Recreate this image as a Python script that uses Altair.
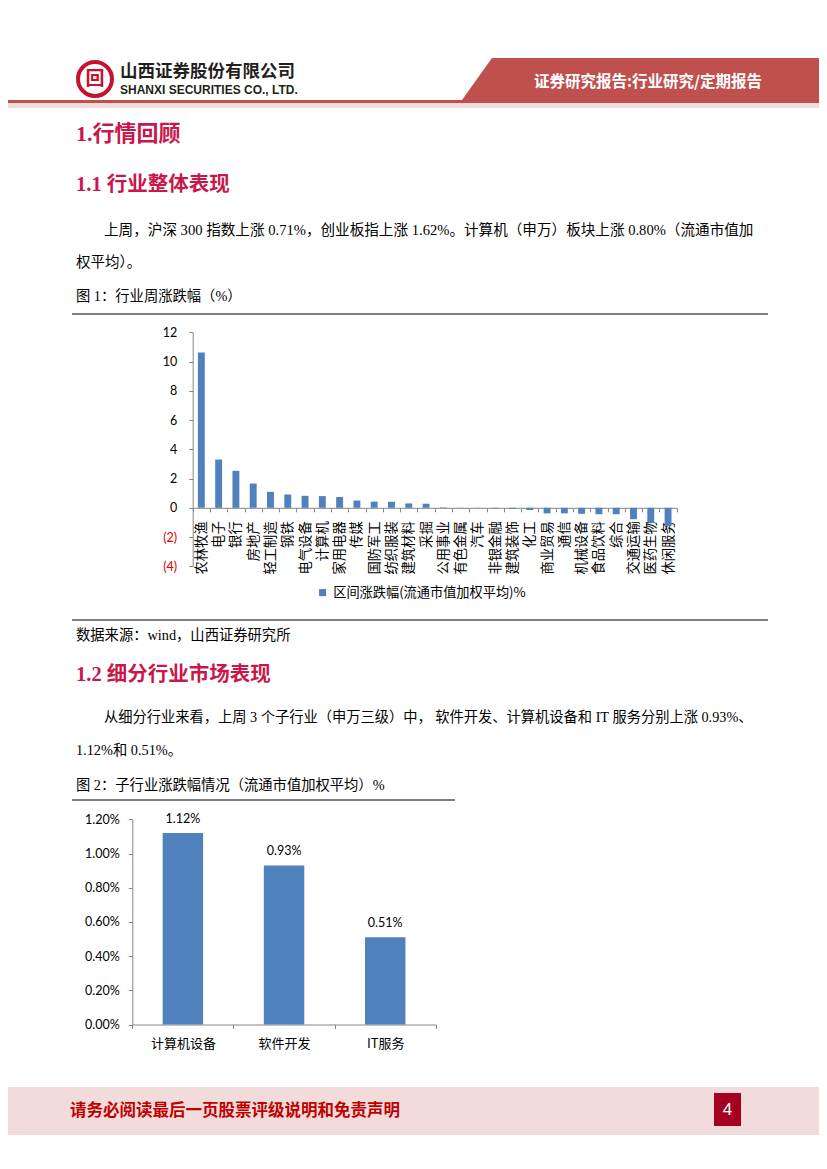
import altair as alt
import pandas as pd

# ---------------- data ----------------
industries = ["农林牧渔", "电子", "银行", "房地产", "轻工制造", "钢铁", "电气设备", "计算机",
              "家用电器", "传媒", "国防军工", "纺织服装", "建筑材料", "采掘", "公用事业", "有色金属",
              "汽车", "非银金融", "建筑装饰", "化工", "商业贸易", "通信", "机械设备", "食品饮料",
              "综合", "交通运输", "医药生物", "休闲服务"]
changes = [10.62, 3.30, 2.53, 1.66, 1.09, 0.91, 0.82, 0.80, 0.74, 0.50, 0.42, 0.41, 0.30, 0.28,
           0.03, 0.01, -0.01, -0.03, -0.06, -0.15, -0.38, -0.38, -0.41, -0.44, -0.44, -0.78,
           -1.02, -1.25]
series_name = "区间涨跌幅(流通市值加权平均)%"
y1_ticks = [-4, -2, 0, 2, 4, 6, 8, 10, 12]

subs = ["计算机设备", "软件开发", "IT服务"]
sub_changes = [0.0112, 0.0093, 0.0051]
y2_ticks = [0.0, 0.002, 0.004, 0.006, 0.008, 0.010, 0.012]

# ---------------- page layout ----------------
W, H = 811, 1153
M = 8  # page margin, page coords -> chart coords
CJK = "Noto Sans CJK SC"
BODY = "'Liberation Serif', 'Noto Sans CJK SC'"
NUM = "Lato, 'Noto Sans CJK SC'"
GRAY = "#868686"
BLUE = "#4F81BD"
CRIMSON = "#C8174B"
HEADRED = "#C0504D"
PINK = "#F2DCDB"

base = pd.DataFrame({"k": [0]})


def txt(s, x, y, size, color="#000000", weight="normal", font=BODY, align="left"):
    return alt.Chart(base).mark_text(
        text=s, fontSize=size, color=color, fontWeight=weight, font=font,
        align=align, baseline="middle"
    ).encode(x=alt.value(x - M), y=alt.value(y - M))


def hrule(x1, x2, y, color="#000000", w=1.0):
    return alt.Chart(base).mark_rule(color=color, strokeWidth=w).encode(
        x=alt.value(x1 - M), x2=alt.value(x2 - M), y=alt.value(y - M))


def rect(x1, x2, y1, y2, color):
    return alt.Chart(base).mark_rect(color=color).encode(
        x=alt.value(x1 - M), x2=alt.value(x2 - M), y=alt.value(y1 - M), y2=alt.value(y2 - M))


layers = []

# header band (trapezoid drawn as a custom symbol)
trap_side = 357.0
layers.append(alt.Chart(base).mark_point(
    shape="M-0.8319,-0.1176L1,-0.1176L1,0.1176L-1,0.1176Z",
    size=trap_side ** 2, filled=True, color=HEADRED, opacity=1, strokeWidth=0
).encode(x=alt.value(632.5), y=alt.value(71)))
layers.append(rect(0, W + M, 100, 103, HEADRED))
layers.append(rect(0, W + M, 103, 108, PINK))
layers.append(txt("证券研究报告:行业研究/定期报告", 648, 82, 15.5, "#FFFFFF", "bold", CJK, "center"))

# logo
layers.append(alt.Chart(base).mark_point(
    shape="circle", size=34 ** 2, filled=False, color="#C41230", strokeWidth=4, opacity=1
).encode(x=alt.value(95 - M), y=alt.value(79 - M)))
layers.append(txt("回", 95, 79, 19, "#C41230", "bold", CJK, "center"))
layers.append(txt("山西证券股份有限公司", 120, 72, 17.5, "#231F20", "bold", CJK))
layers.append(txt("SHANXI SECURITIES CO., LTD.", 120, 90, 12, "#231F20", "bold", "'Liberation Sans'"))

# headings and text
layers.append(txt("1.行情回顾", 76, 134, 22, CRIMSON, "bold", BODY))
layers.append(txt("1.1 行业整体表现", 76, 185, 20.5, CRIMSON, "bold", BODY))
layers.append(txt("上周，沪深 300 指数上涨 0.71%，创业板指上涨 1.62%。计算机（申万）板块上涨 0.80%（流通市值加",
                  104, 231, 14.6))
layers.append(txt("权平均）。", 76, 263, 14.5))
layers.append(txt("图 1：行业周涨跌幅（%）", 76, 297, 14.3))
layers.append(hrule(72, 768, 314))
layers.append(hrule(72, 768, 620))
layers.append(txt("数据来源：wind，山西证券研究所", 76, 636, 14.3))
layers.append(txt("1.2 细分行业市场表现", 76, 675, 20.5, CRIMSON, "bold", BODY))
layers.append(txt("从细分行业来看，上周 3 个子行业（申万三级）中， 软件开发、计算机设备和 IT 服务分别上涨 0.93%、",
                  104, 718, 14.25))
layers.append(txt("1.12%和 0.51%。", 76, 751, 14.3))
layers.append(txt("图 2：子行业涨跌幅情况（流通市值加权平均）%", 76, 786, 14.3))
layers.append(hrule(72, 455, 800))

# footer
layers.append(rect(0, W + M, 1087, 1135, PINK))
layers.append(txt("请务必阅读最后一页股票评级说明和免责声明", 70, 1111, 16.5, "#C00000", "bold", CJK))
layers.append(rect(714, 741, 1093, 1126, "#A50021"))
layers.append(txt("4", 727.5, 1110, 17, "#FFFFFF", "normal", "'Liberation Sans'", "center"))

# ---------------- chart 1 ----------------
zero1 = 507.8 - M
unit1 = 14.63
df1 = pd.DataFrame({"industry": industries, "change": changes, "series": series_name})
chart1 = alt.Chart(df1).mark_bar(width=alt.RelativeBandSize(0.4)).encode(
    x=alt.X("industry:N", sort=industries, title=None,
            scale=alt.Scale(range=[192.7 - M, 676.7 - M], paddingInner=0, paddingOuter=0),
            axis=alt.Axis(orient="bottom", offset=zero1 - H, tickBand="extent",
                          labelAngle=-90, labelAlign="right", labelBaseline="middle",
                          labelPadding=9, tickSize=4, domainColor=GRAY, tickColor=GRAY,
                          labelFont=CJK, labelFontSize=13.3, labelColor="#000000",
                          labelOverlap=False, grid=False)),
    y=alt.Y("change:Q", title=None,
            scale=alt.Scale(domain=[-4, 12], nice=False,
                            range=[zero1 + 4 * unit1, zero1 - 12 * unit1]),
            axis=alt.Axis(orient="left", offset=-(192.7 - M), values=y1_ticks,
                          labelExpr="datum.value < 0 ? '(' + (-datum.value) + ')' : datum.label",
                          labelColor=alt.ExprRef(expr="datum.value < 0 ? '#E00000' : '#000000'"),
                          labelFont=NUM, labelFontSize=12.5, labelPadding=12, tickSize=4,
                          domainColor=GRAY, tickColor=GRAY, grid=False)),
    color=alt.Color("series:N", title=None, scale=alt.Scale(range=[BLUE]),
                    legend=alt.Legend(orient="none", legendX=308, legendY=578, padding=0,
                                      symbolType="square", symbolSize=50, symbolStrokeWidth=0,
                                      labelFont=CJK, labelFontSize=13.2, labelColor="#000000",
                                      labelLimit=400)),
)

# ---------------- chart 2 ----------------
zero2 = 1024.5 - M
top2 = 819.3 - M
df2 = pd.DataFrame({"sub": subs, "change": sub_changes})
x2 = alt.X("sub:N", sort=subs, title=None,
           scale=alt.Scale(range=[132.3 - M, 435.8 - M], paddingInner=0, paddingOuter=0),
           axis=alt.Axis(orient="bottom", offset=zero2 - H, tickBand="extent", labelAngle=0,
                         labelPadding=9, tickSize=4, domainColor=GRAY, tickColor=GRAY,
                         labelFont=CJK, labelFontSize=13, labelColor="#000000", grid=False))
y2 = alt.Y("change:Q", title=None,
           scale=alt.Scale(domain=[0, 0.012], nice=False, range=[zero2, top2]),
           axis=alt.Axis(orient="left", offset=-(132.3 - M), values=y2_ticks, format=".2%",
                         labelFont=NUM, labelFontSize=12.5, labelPadding=9, tickSize=4,
                         domainColor=GRAY, tickColor=GRAY, labelColor="#000000", grid=False))
bars2 = alt.Chart(df2).mark_bar(width=alt.RelativeBandSize(0.4), color=BLUE).encode(x=x2, y=y2)
labels2 = alt.Chart(df2).mark_text(baseline="middle", dy=-14, font=NUM, fontSize=12.5,
                                   color="#000000").encode(
    x=x2, y=y2, text=alt.Text("change:Q", format=".2%"))
chart2 = alt.layer(bars2, labels2)

page = alt.layer(*layers, chart1, chart2).resolve_scale(
    x="independent", y="independent", color="independent"
).resolve_axis(x="independent", y="independent").properties(
    width=W, height=H, padding=0, autosize=alt.AutoSizeParams(type="none"),
    background="#FFFFFF"
).configure_view(stroke=None)

page.save("out.html", embed_options={"renderer": "svg", "actions": False})
